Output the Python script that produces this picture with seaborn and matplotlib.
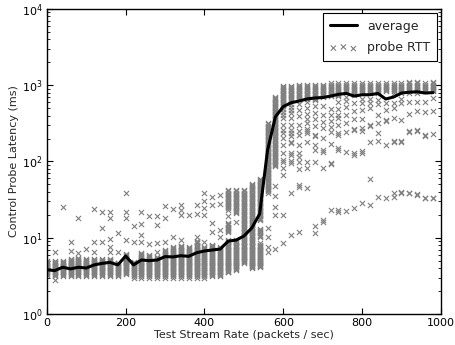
import matplotlib
matplotlib.use('Agg')
import matplotlib.pyplot as plt
import pandas as pd
import seaborn as sns

rates = [0, 20, 40, 60, 80, 100, 120, 140, 160, 180,
         200, 220, 240, 260, 280, 300, 320, 340, 360, 380,
         400, 420, 440, 460, 480, 500, 520, 540, 560, 580,
         600, 620, 640, 660, 680, 700, 720, 740, 760, 780,
         800, 820, 840, 860, 880, 900, 920, 940, 960, 980]

avg_latency = [3.8, 3.7, 4.1, 3.9, 4.1, 4.0, 4.4, 4.6, 4.75, 4.4,
               5.75, 4.4, 5.1, 5.0, 5.1, 5.65, 5.6, 5.8, 5.7, 6.35,
               6.7, 6.9, 7.1, 9.0, 9.3, 10.5, 13.4, 20.5, 140, 385,
               525, 590, 620, 660, 680, 690, 720, 760, 780, 720,
               750, 750, 780, 660, 700, 790, 810, 820, 790, 800]

# latency levels used to fill the dense (overplotted) bands of each column
dense_levels = [
    3.0, 3.1, 3.2, 3.3, 3.4, 3.5, 3.6, 3.7, 3.8, 3.9, 4.0, 4.1, 4.2, 4.3, 4.4, 4.5,
    4.6, 4.7, 4.8, 4.9, 5.0, 5.15, 5.3, 5.45, 5.6, 5.75, 5.9, 6.1, 6.3, 6.5, 6.7,
    6.9, 7.1, 7.3, 7.5, 7.7, 7.9, 8.1, 8.4, 8.7, 9.0, 9.3, 9.6, 9.9, 10.2, 10.6,
    11.0, 11.4, 11.8, 12.2, 12.6, 13.0, 13.5, 14.0, 14.5, 15.0, 15.5, 16.0, 16.6,
    17.2, 17.8, 18.4, 19.0, 19.7, 20.4, 21.1, 21.8, 22.6, 23.4, 24.2, 25.0, 25.9,
    26.8, 27.7, 28.7, 29.7, 30.7, 31.8, 32.9, 34.0, 35.2, 36.4, 37.7, 39.0, 40.4,
    41.8, 43.2, 44.7, 46.3, 47.9, 49.6, 51.3, 53.1, 55.0, 56.9, 58.9, 61, 63, 65,
    68, 70, 72, 75, 78, 80, 83, 86, 89, 92, 95, 99, 102, 106, 110, 113, 117, 121,
    126, 130, 135, 139, 144, 149, 154, 160, 165, 171, 177, 183, 190, 196, 203, 210,
    218, 225, 233, 241, 250, 258, 267, 277, 286, 296, 307, 318, 329, 340, 352, 364,
    377, 390, 404, 418, 432, 447, 463, 479, 496, 513, 531, 550, 569, 589, 609, 631,
    653, 675, 699, 723, 749, 775, 802, 830, 859, 889, 920, 952, 985, 1020, 1055, 1090]


def band(lo, hi):
    return [v for v in dense_levels if lo <= v <= hi]


probe_rtt = [
    band(3.2, 4.9),
    band(3.1, 4.9) + [2.8, 6.4],
    band(3.1, 4.9) + [25],
    band(3.1, 5.3) + [6.7, 8.9],
    band(3.1, 5.5) + [6.3, 18],
    band(3.1, 5.3) + [7.1],
    band(3.1, 5.3) + [6.5, 8.9, 24],
    band(3.1, 5.3) + [8.9, 13.4, 22],
    band(3.1, 5.3) + [6.5, 7.6, 9.5, 18, 22],
    band(3.1, 4.7) + [6.5, 11.7],
    band(3.25, 6.2) + [9.3, 18.3, 22, 39],
    band(3.0, 4.8) + [8.9, 14.2],
    band(3.0, 6.3) + [8.9, 10.9, 15, 22],
    band(3.0, 6.0) + [8.3, 19.3],
    band(3.0, 5.6) + [6.5, 8.5, 14.7, 19.3],
    band(3.0, 7.0) + [8.9, 18.3, 26],
    band(3.0, 7.5) + [10.3, 24],
    band(3.0, 8.0) + [9.3, 20, 23, 27],
    band(3.0, 7.5) + [20],
    band(3.0, 9.0) + [10.3, 20.5, 27],
    band(3.0, 7.5) + [8.9, 20, 24.5, 30, 38],
    band(3.1, 8.3) + [12, 15.6, 27, 34.5],
    band(3.1, 7.5) + [10.3, 12.6, 28, 36.5],
    band(3.45, 9.3) + band(11.5, 15.6) + band(23, 42) + [19],
    band(3.8, 9.3) + band(21, 42) + [16.2],
    band(4.7, 42),
    band(4.0, 52),
    band(4.1, 8.5) + band(10.2, 13.4) + band(17, 60),
    band(39, 320) + [6.5, 7.6, 10.3, 13.4],
    band(85, 710) + [7.1, 19.8, 25.5, 35.5, 47],
    band(520, 1000) + [8.5, 19.8, 66, 82, 99, 105, 130, 165, 203, 235, 260, 300,
                       370, 410, 450, 490],
    band(620, 1000) + [10.9, 39, 95, 100, 122, 130, 175, 180, 215, 236, 260, 300,
                       370, 430, 470, 520, 570],
    band(620, 1030) + [12, 46, 49, 80, 99, 116, 130, 165, 220, 250, 300, 390, 470, 560],
    band(650, 1040) + [45, 82, 99, 180, 236, 248, 270, 320, 360, 420, 510, 600],
    band(620, 1040) + [11.5, 14.2, 99, 141, 165, 215, 220, 290, 360, 430, 530],
    band(680, 1050) + [16.2, 17, 82, 133, 141, 203, 275, 330, 410, 530],
    band(720, 1060) + [23, 93, 95, 170, 240, 283, 340, 410, 490],
    band(720, 1060) + [22, 23, 141, 150, 220, 235, 300, 370, 410, 490, 600],
    band(820, 1070) + [22.4, 133, 240, 320, 410, 525, 630, 710],
    band(740, 1070) + [24.8, 122, 130, 260, 265, 360, 465, 590],
    band(790, 1070) + [28.3, 130, 138, 248, 275, 365, 470, 590, 650],
    band(790, 1070) + [27, 59, 180, 296, 300, 505, 590, 650],
    band(790, 1070) + [34, 185, 236, 320, 410, 570, 640],
    band(820, 1070) + [33.5, 165, 340, 350, 470, 590],
    band(790, 1070) + [34.5, 39, 180, 185, 370, 500, 590],
    band(790, 1070) + [39, 40, 180, 185, 350, 590, 650],
    band(790, 1090) + [38, 39, 240, 250, 420, 610],
    band(790, 1090) + [36.5, 37.5, 248, 255, 455, 610],
    band(820, 1070) + [32.8, 33, 215, 220, 445, 610],
    band(820, 1090) + [32.8, 33, 230, 465, 680],
]


def make_frames():
    avg_df = pd.DataFrame({'rate': rates, 'latency': avg_latency})
    probe_df = pd.DataFrame({
        'rate': [r for r, vals in zip(rates, probe_rtt) for _ in vals],
        'latency': [v for vals in probe_rtt for v in vals],
    })
    return avg_df, probe_df


def plot_latency(avg_df, probe_df):
    sns.set_style('ticks')
    plt.rcParams.update({
        'xtick.direction': 'in', 'ytick.direction': 'in',
        'xtick.top': True, 'ytick.right': True,
        'axes.edgecolor': 'black', 'axes.linewidth': 1.0,
        'xtick.major.size': 4, 'ytick.major.size': 4,
        'ytick.minor.size': 2, 'xtick.color': 'black', 'ytick.color': 'black',
        'font.family': ['DejaVu Sans'],
    })

    fig = plt.figure(figsize=(4.55, 3.45), dpi=100)
    ax = fig.add_axes([0.103, 0.09, 0.866, 0.884])

    sns.scatterplot(x='rate', y='latency', data=probe_df, marker='x', color='#808080',
                    s=14, linewidth=0.8, label='probe RTT', ax=ax, zorder=2)
    sns.lineplot(x='rate', y='latency', data=avg_df, color='black', linewidth=2.2,
                 label='average', ax=ax, zorder=3)

    ax.set_yscale('log')
    ax.set_xlim(0, 1000)
    ax.set_ylim(1, 1e4)
    ax.set_xticks([0, 200, 400, 600, 800, 1000])
    ax.tick_params(axis='both', which='major', labelsize=8, pad=3)
    ax.set_xlabel('Test Stream Rate (packets / sec)', fontsize=8, labelpad=1)
    ax.set_ylabel('Control Probe Latency (ms)', fontsize=8, labelpad=2)

    handles, labels = ax.get_legend_handles_labels()
    order = [labels.index('average'), labels.index('probe RTT')]
    leg = ax.legend([handles[i] for i in order], [labels[i] for i in order],
                    loc='upper right', fontsize=9, scatterpoints=3, fancybox=False,
                    framealpha=1, edgecolor='black', borderaxespad=0.35,
                    handlelength=2.2, labelspacing=0.7, borderpad=0.5)
    leg.get_frame().set_linewidth(0.8)
    return fig


if __name__ == '__main__':
    avg_df, probe_df = make_frames()
    fig = plot_latency(avg_df, probe_df)
    fig.savefig('out.png', dpi=100)
